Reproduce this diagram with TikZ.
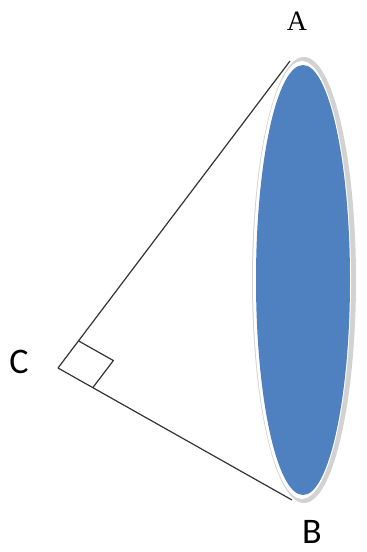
\documentclass[tikz,border=0pt]{standalone}
\usepackage{fontspec}
\setmainfont{Carlito}
\newfontfamily\serifA{Liberation Serif}
\usetikzlibrary{calc}
\definecolor{discblue}{RGB}{79,129,192}
\tikzset{
  lbl/.style={font=\fontsize{18}{20}\selectfont, inner sep=0pt},
  side/.style={black!80, line width=0.6pt}
}
\begin{document}
\begin{tikzpicture}[x=0.5pt, y=-0.5pt]
  \useasboundingbox (0,0) rectangle (366,552);
  % Disc
  \fill[gray!35] (304,280) ellipse [x radius=52, y radius=223];
  \fill[white] (302,280) ellipse [x radius=49, y radius=219];
  \fill[discblue] (303,280) ellipse [x radius=47, y radius=215];
  % Points
  \coordinate (A) at (290,61);
  \coordinate (B) at (292,500);
  \coordinate (C) at (58,368);
  % Sides
  \draw[side] (C) -- (A);
  \draw[side] (C) -- (B);
  % Right angle mark
  \coordinate (mA) at ($(C)!17pt!(A)$);
  \coordinate (mB) at ($(C)!20pt!(B)$);
  \draw[side] (mA) -- ($(mA)+(mB)-(C)$) -- (mB);
  % Labels
  \node[lbl, font=\serifA\fontsize{14}{16}\selectfont] (lblA) at (297,21) {A};
  \node[lbl] (lblB) at (312,532) {B};
  \node[lbl] (lblC) at (19,362) {C};
\end{tikzpicture}
\end{document}
